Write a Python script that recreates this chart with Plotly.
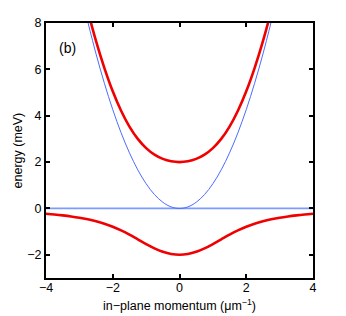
import plotly.graph_objects as go

# in-plane momentum samples (µm^-1)
k_half = [0, 0.25, 0.5, 0.75, 1.0, 1.25, 1.5, 1.75, 2.0, 2.25, 2.5, 2.75, 3.0, 3.25, 3.5, 3.75, 4.0]
# upper polariton (meV)
up_half = [2.0, 2.034, 2.138, 2.322, 2.603, 3.0, 3.531, 4.214, 5.055, 6.057, 7.217, 8.531]
# lower polariton (meV)
lp_half = [-2.0, -1.967, -1.871, -1.723, -1.537, -1.334, -1.133, -0.949, -0.791, -0.660,
           -0.554, -0.469, -0.400, -0.345, -0.300, -0.262, -0.231]
# cavity photon (meV)
ph_half = [0.0, 0.067, 0.267, 0.600, 1.066, 1.666, 2.399, 3.265, 4.264, 5.397, 6.663, 8.062]
# exciton (meV)
ex_k = [-4, 4]
ex_E = [0, 0]

x_ticks = [-4, -2, 0, 2, 4]
x_labels = ["\u22124", "\u22122", "0", "2", "4"]
y_ticks = [-2, 0, 2, 4, 6, 8]
y_labels = ["\u22122", "0", "2", "4", "6", "8"]


def mirror(ks, vs):
    n = len(vs)
    kk = ks[:n]
    return [-x for x in kk[::-1]] + kk[1:], vs[::-1] + vs[1:]


fig = go.Figure()
fig.add_trace(go.Scatter(x=ex_k, y=ex_E, mode="lines",
                         line=dict(color="#7d9bff", width=1.8), showlegend=False))
kx, v = mirror(k_half, ph_half)
fig.add_trace(go.Scatter(x=kx, y=v, mode="lines", line_shape="spline",
                         line=dict(color="#4d6bff", width=1), showlegend=False))
kx, v = mirror(k_half, up_half)
fig.add_trace(go.Scatter(x=kx, y=v, mode="lines", line_shape="spline",
                         line=dict(color="#f00000", width=2.6), showlegend=False))
kx, v = mirror(k_half, lp_half)
fig.add_trace(go.Scatter(x=kx, y=v, mode="lines", line_shape="spline",
                         line=dict(color="#f00000", width=2.6), showlegend=False))

fig.add_annotation(x=-3.35, y=6.92, text="(b)", showarrow=False,
                   font=dict(size=14, color="black"))
fig.add_annotation(xref="paper", yref="paper", x=0.5, y=-0.106, yanchor="middle",
                   text="in\u2212plane momentum (\u03bcm<sup>\u22121</sup>)", showarrow=False,
                   font=dict(size=12.5, color="black"))
fig.add_annotation(xref="paper", yref="paper", x=-0.105, y=0.5, xanchor="center",
                   text="energy (meV)", textangle=-90, showarrow=False,
                   font=dict(size=12.5, color="black"))

axis_common = dict(showgrid=False, zeroline=False, showline=True, linecolor="black",
                   linewidth=2.2, mirror="ticks", ticks="inside", ticklen=4,
                   tickwidth=1.5, tickcolor="black", automargin=False,
                   tickfont=dict(size=12.5, color="black"))
fig.update_xaxes(range=[-4, 4], tickvals=x_ticks, ticktext=x_labels,
                 ticklabelstandoff=-3, **axis_common)
fig.update_yaxes(range=[-3, 8], tickvals=y_ticks, ticktext=y_labels, **axis_common)
fig.update_layout(width=338, height=308, margin=dict(l=38, r=33, t=15, b=38),
                  paper_bgcolor="white", plot_bgcolor="white",
                  font=dict(family="Liberation Sans, Arial, Helvetica, sans-serif"))
fig.write_html("out.html")
